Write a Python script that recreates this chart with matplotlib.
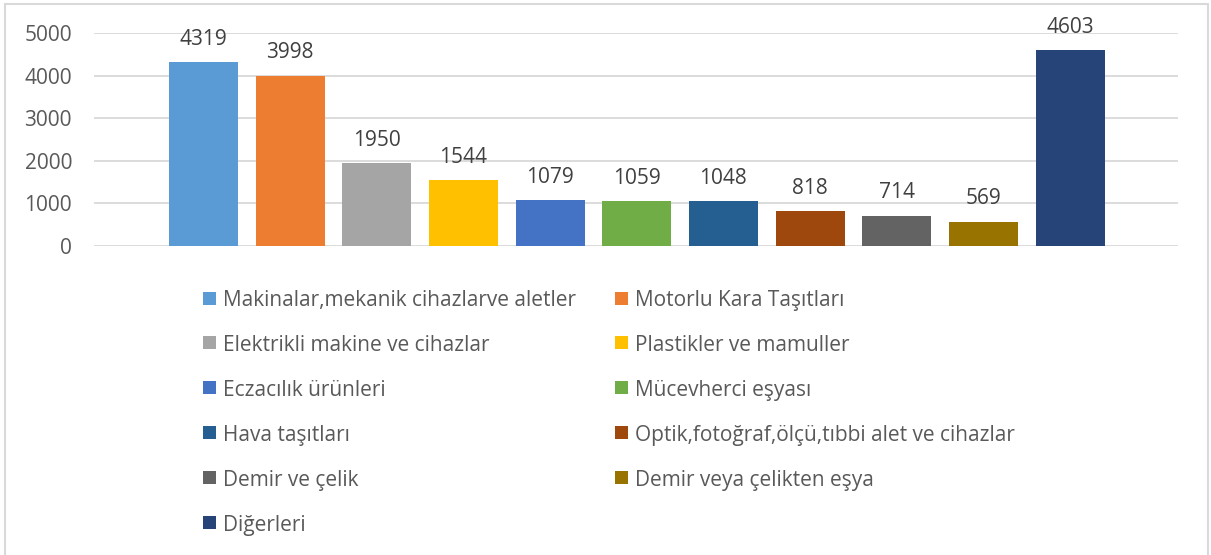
import matplotlib
matplotlib.use("Agg")
import matplotlib.pyplot as plt
from matplotlib.patches import Rectangle

categories = [
    "Makinalar,mekanik cihazlarve aletler",
    "Motorlu Kara Taşıtları",
    "Elektrikli makine ve cihazlar",
    "Plastikler ve mamuller",
    "Eczacılık ürünleri",
    "Mücevherci eşyası",
    "Hava taşıtları",
    "Optik,fotoğraf,ölçü,tıbbi alet ve cihazlar",
    "Demir ve çelik",
    "Demir veya çelikten eşya",
    "Diğerleri",
]
values = [4319, 3998, 1950, 1544, 1079, 1059, 1048, 818, 714, 569, 4603]
colors = ["#5B9BD5", "#ED7D31", "#A5A5A5", "#FFC000", "#4472C4", "#70AD47",
          "#255E91", "#9E480E", "#636363", "#997300", "#264478"]
yticks = [0, 1000, 2000, 3000, 4000, 5000]

W, H = 1211, 555
plt.rcParams['font.family'] = ['Open Sans', 'DejaVu Sans']
fig = plt.figure(figsize=(W / 100, H / 100), dpi=100)
fig.patch.set_facecolor("white")

# outer border
fig.patches.append(Rectangle((5 / W, -0.02), (1208 - 5) / W, 1 - 4 / H + 0.02,
                             transform=fig.transFigure, fill=False,
                             edgecolor="#D9D9D9", linewidth=1.5))

ax_l, ax_r, ax_t, ax_b = 94, 1178, 33, 246
ax = fig.add_axes([ax_l / W, 1 - ax_b / H, (ax_r - ax_l) / W, (ax_b - ax_t) / H])
x = list(range(len(values)))
ax.bar(x, values, width=0.796, color=colors, zorder=3)
ax.set_xlim(-1.264, 11.246)
ax.set_ylim(0, 5000)
ax.set_yticks(yticks)
ax.set_yticklabels([str(t) for t in yticks])
ax.set_xticks([])
ax.grid(axis='y', color="#D9D9D9", linewidth=1.3, zorder=0)
for s in ax.spines.values():
    s.set_visible(False)
ax.tick_params(axis='y', length=0, pad=15.8, labelsize=15, labelcolor="#595959")

for xi, v in zip(x, values):
    ax.annotate(str(v), (xi, v), xytext=(0, 12.5), textcoords="offset points",
                ha="center", va="baseline", fontsize=15, color="#404040")

# legend (two columns)
col_x = [203, 615]
row_y0, row_dy = 298, 44.9
sq = 13
for i, (name, c) in enumerate(zip(categories, colors)):
    cx = col_x[i % 2]
    cy = row_y0 + row_dy * (i // 2)
    fig.patches.append(Rectangle((cx / W, 1 - (cy + sq / 2) / H), sq / W, sq / H,
                                 transform=fig.transFigure, facecolor=c, edgecolor="none"))
    fig.text((cx + 20) / W, 1 - cy / H, name, ha="left", va="center_baseline",
             fontsize=15, color="#595959")

fig.savefig("out.png", dpi=100, facecolor="white")
